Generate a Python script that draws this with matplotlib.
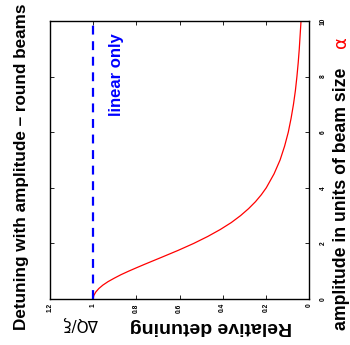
import matplotlib
matplotlib.use("Agg")
import matplotlib.pyplot as plt

# beam-beam detuning vs. amplitude (round beams)
amplitude = [0, 0.125, 0.25, 0.375, 0.5, 0.625, 0.75, 0.875, 1.0, 1.125, 1.25,
             1.375, 1.5, 1.75, 2.0, 2.25, 2.5, 2.75, 3.0, 3.25, 3.5, 3.75, 4.0,
             4.5, 5.0, 5.5, 6.0, 6.5, 7.0, 7.5, 8.0, 8.5, 9.0, 9.5, 10.0]
detuning = [1.0, 0.997, 0.988, 0.974, 0.955, 0.931, 0.902, 0.871, 0.836, 0.799,
            0.761, 0.722, 0.683, 0.606, 0.534, 0.469, 0.411, 0.360, 0.317, 0.280,
            0.248, 0.221, 0.198, 0.162, 0.134, 0.113, 0.096, 0.083, 0.072, 0.063,
            0.056, 0.050, 0.045, 0.041, 0.037]
linear_amp = [0, 10]
linear_det = [1, 1]

xticks = [1.2, 1, 0.8, 0.6, 0.4, 0.2, 0]
xticklabels = ["1.2", "1", "0.8", "0.6", "0.4", "0.2", "0"]
yticks = [0, 2, 4, 6, 8, 10]

plt.rcParams['font.family'] = ['Liberation Sans', 'DejaVu Sans']

fig = plt.figure(figsize=(3.5, 3.45), dpi=100)
ax = fig.add_axes([50 / 350, 46 / 345, 259 / 350, 278 / 345])

# plot is drawn turned on its side: detuning runs right-to-left, amplitude upward
ax.plot(detuning, amplitude, color='red', lw=0.9)
ax.plot(linear_det, linear_amp, color='blue', lw=1.6, ls=(0, (4, 3)))

ax.set_xlim(1.2, 0)
ax.set_ylim(0, 10)
ax.set_xticks(xticks)
ax.set_xticklabels(xticklabels, rotation=90, fontsize=4.8, fontweight='bold')
ax.set_yticks(yticks)
ax.set_yticklabels([str(v) for v in yticks], rotation=90, fontsize=4.8,
                   fontweight='bold', va='center')
ax.yaxis.tick_right()
ax.tick_params(direction='in', length=3, width=0.6, top=True, left=True,
               right=True, bottom=True)
ax.tick_params(axis='x', pad=3)
ax.tick_params(axis='y', pad=8)
for s in ax.spines.values():
    s.set_linewidth(1.0)

fig.text(22 / 350, 1 - 167 / 345, "Detuning with amplitude \u2013 round beams",
         rotation=90, ha='center', va='center', fontsize=12.3, fontweight='bold')
fig.text(211 / 350, 1 - 326 / 345, "Relative detuning", rotation=180,
         ha='center', va='center', fontsize=14, fontweight='bold')
fig.text(80 / 350, 1 - 323 / 345, "\u0394Q/\u03be", rotation=180,
         ha='center', va='center', fontsize=11, family=['DejaVu Sans'])
fig.text(341 / 350, 1 - 199 / 345, "amplitude in units of beam size", rotation=90,
         ha='center', va='center', fontsize=12.7, fontweight='bold')
fig.text(341 / 350, 1 - 42 / 345, "\u03b1", rotation=90, color='red',
         ha='center', va='center', fontsize=13, family=['DejaVu Sans'])
ax.text(0.89, 9.57, "linear only", rotation=90, color='blue', ha='center',
        va='top', fontsize=12, fontweight='bold')

fig.savefig("out.png", dpi=100)
